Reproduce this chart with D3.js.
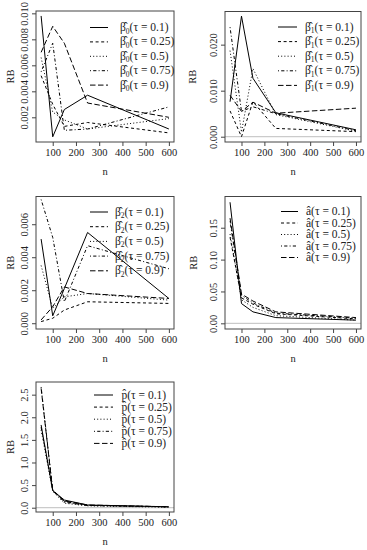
<html><head>
<meta charset="UTF-8">
<script src="https://cdnjs.cloudflare.com/ajax/libs/d3/7.8.4/d3.min.js"></script>
<style>
  body { margin: 0; background: #fff; }
  svg text { font-family: "Liberation Serif", "DejaVu Serif", "Times New Roman", serif !important; fill: #222; }
</style>
</head>
<body>
<svg id="chart" width="367" height="550"></svg>
<script>
// sample sizes and quantile levels
var nVals = [50, 100, 150, 250, 600];
var taus = ["0.1", "0.25", "0.5", "0.75", "0.9"];
var xTicks = [100, 200, 300, 400, 500, 600];

// relative bias, one row per tau
var rbBeta0 = [
  [0.0098, 0.0005, 0.0026, 0.0037, 0.0011],
  [0.0052, 0.0030, 0.0013, 0.0016, 0.0008],
  [0.0066, 0.0024, 0.0018, 0.0011, 0.0019],
  [0.0055, 0.0077, 0.0010, 0.0011, 0.0028],
  [0.0070, 0.0090, 0.0077, 0.0031, 0.0020]
];
var rbBeta1 = [
  [0.0076, 0.0262, 0.0127, 0.0052, 0.0015],
  [0.0056, 0.0000, 0.0076, 0.0018, 0.0011],
  [0.0187, 0.0010, 0.0148, 0.0048, 0.0012],
  [0.0238, 0.0055, 0.0065, 0.0050, 0.0013],
  [0.0090, 0.0055, 0.0075, 0.0051, 0.0062]
];
var rbBeta2 = [
  [0.0051, 0.00045, 0.0021, 0.0055, 0.0015],
  [0.0001, 0.0003, 0.0008, 0.0013, 0.0012],
  [0.0035, 0.0009, 0.0016, 0.0018, 0.0014],
  [0.0075, 0.0052, 0.0013, 0.0047, 0.0033],
  [0.0002, 0.0010, 0.0022, 0.0018, 0.0015]
];
var rbA = [
  [0.190, 0.031, 0.018, 0.009, 0.005],
  [0.135, 0.040, 0.030, 0.015, 0.007],
  [0.140, 0.037, 0.025, 0.012, 0.005],
  [0.160, 0.044, 0.032, 0.016, 0.008],
  [0.165, 0.046, 0.035, 0.018, 0.009]
];
var rbP = [
  [1.83, 0.38, 0.17, 0.06, 0.02],
  [1.78, 0.40, 0.14, 0.05, 0.02],
  [1.72, 0.36, 0.10, 0.04, 0.01],
  [2.67, 0.39, 0.12, 0.05, 0.02],
  [2.64, 0.37, 0.15, 0.06, 0.02]
];

var yTicks1 = [0.002, 0.004, 0.006, 0.008, 0.010];
var yTicks2 = [0, 0.01, 0.02];
var yTicks3 = [0, 0.002, 0.004, 0.006];
var yTicks4 = [0, 0.05, 0.10, 0.15];
var yTicks5 = [0, 0.5, 1.0, 1.5, 2.0, 2.5];

// R lty 1..5
var dashes = [null, "3,2.6", "1,2.2", "1,2.2,3.2,2.2", "5.5,2.5"];

var panels = [
  {data: rbBeta0, sym: "β\u0302", sub: "0", yt: yTicks1, fmt: d3.format(".3f"),
   box: [36, 174, 11, 142], dom: [0.0001, 0.01018], zero: false,
   leg: {k0: 90, k1: 108, tx: 120, y0: 27.5, dy: 14.4}, rbX: 10},
  {data: rbBeta1, sym: "β\u0302", sub: "1", yt: yTicks2, fmt: d3.format(".3f"),
   box: [225, 361, 11.5, 142], dom: [-0.00115, 0.0272], zero: true,
   leg: {k0: 278, k1: 297, tx: 305, y0: 27, dy: 14.6}, rbX: 192},
  {data: rbBeta2, sym: "β\u0302", sub: "2", yt: yTicks3, fmt: d3.format(".3f"),
   box: [36, 174, 196.5, 329], dom: [-0.00035, 0.00768], zero: false,
   leg: {k0: 90, k1: 108, tx: 115, y0: 212, dy: 14.7}, rbX: 10},
  {data: rbA, sym: "a\u0302", sub: null, yt: yTicks4, fmt: d3.format(".2f"),
   box: [225, 361, 196.5, 329], dom: [-0.0089, 0.199], zero: true,
   leg: {k0: 281, k1: 298, tx: 306, y0: 211.5, dy: 11.5}, rbX: 193},
  {data: rbP, sym: "p\u0302", sub: null, yt: yTicks5, fmt: d3.format(".1f"),
   box: [36, 174, 382, 512], dom: [-0.095, 2.78], zero: true,
   leg: {k0: 94, k1: 113, tx: 121.5, y0: 395, dy: 12.1}, rbX: 10}
];

var svg = d3.select("#chart");

panels.forEach(function(p) {
  var b = p.box;
  var x = d3.scaleLinear().domain([28, 622]).range([b[0], b[1]]);
  var y = d3.scaleLinear().domain(p.dom).range([b[3], b[2]]);
  var g = svg.append("g");

  if (p.zero) {
    g.append("line").attr("x1", b[0]).attr("x2", b[1])
      .attr("y1", y(0)).attr("y2", y(0))
      .attr("stroke", "#bebebe").attr("stroke-width", 1);
  }

  var line = d3.line().x(function(d, i) { return x(nVals[i]); }).y(function(d) { return y(d); });
  p.data.forEach(function(s, k) {
    g.append("path").attr("d", line(s)).attr("fill", "none")
      .attr("stroke", "#000").attr("stroke-width", 1)
      .attr("stroke-dasharray", dashes[k]);
  });

  // axes
  var xa = g.append("g").attr("transform", "translate(0," + b[3] + ")")
    .call(d3.axisBottom(x).tickValues(xTicks).tickSize(4).tickPadding(3).tickFormat(d3.format("d")));
  xa.select(".domain").remove();
  xa.selectAll("text").attr("font-size", 10.5).attr("fill", "#222");
  xa.selectAll("line").attr("stroke", "#444");

  var ya = g.append("g").attr("transform", "translate(" + b[0] + ",0)")
    .call(d3.axisLeft(y).tickValues(p.yt).tickSize(4).tickFormat(p.fmt));
  ya.select(".domain").remove();
  ya.selectAll("line").attr("stroke", "#444");
  ya.selectAll("text").attr("font-size", 10.5).attr("fill", "#222")
    .attr("text-anchor", "middle").attr("dy", null)
    .attr("x", 0).attr("y", 0)
    .attr("transform", "translate(-8.5,0) rotate(-90)");

  g.append("rect").attr("x", b[0]).attr("y", b[2])
    .attr("width", b[1] - b[0]).attr("height", b[3] - b[2])
    .attr("fill", "none").attr("stroke", "#444").attr("stroke-width", 1);

  g.append("text").attr("x", (b[0] + b[1]) / 2).attr("y", b[3] + 33)
    .attr("text-anchor", "middle").attr("font-size", 10.5).text("n");
  g.append("text").attr("transform", "translate(" + (p.rbX + 3.5) + "," + ((b[2] + b[3]) / 2) + ") rotate(-90)")
    .attr("text-anchor", "middle").attr("font-size", 10.5).text("RB");

  // legend
  var L = p.leg;
  taus.forEach(function(t, k) {
    var cy = L.y0 + k * L.dy;
    g.append("line").attr("x1", L.k0).attr("x2", L.k1).attr("y1", cy).attr("y2", cy)
      .attr("stroke", "#000").attr("stroke-width", 1).attr("stroke-dasharray", dashes[k]);
    var base = cy + 3.5;
    var tx = g.append("text").attr("x", L.tx).attr("y", base).attr("font-size", 11.5);
    tx.append("tspan").text(p.sym);
    if (p.sub) {
      tx.append("tspan").attr("font-size", 7.5).attr("dy", 2.5).text(p.sub);
      tx.append("tspan").attr("dy", -2.5).text("(τ = " + t + ")");
    } else {
      tx.append("tspan").text("(τ = " + t + ")");
    }
  });
});
</script>
</body>
</html>
